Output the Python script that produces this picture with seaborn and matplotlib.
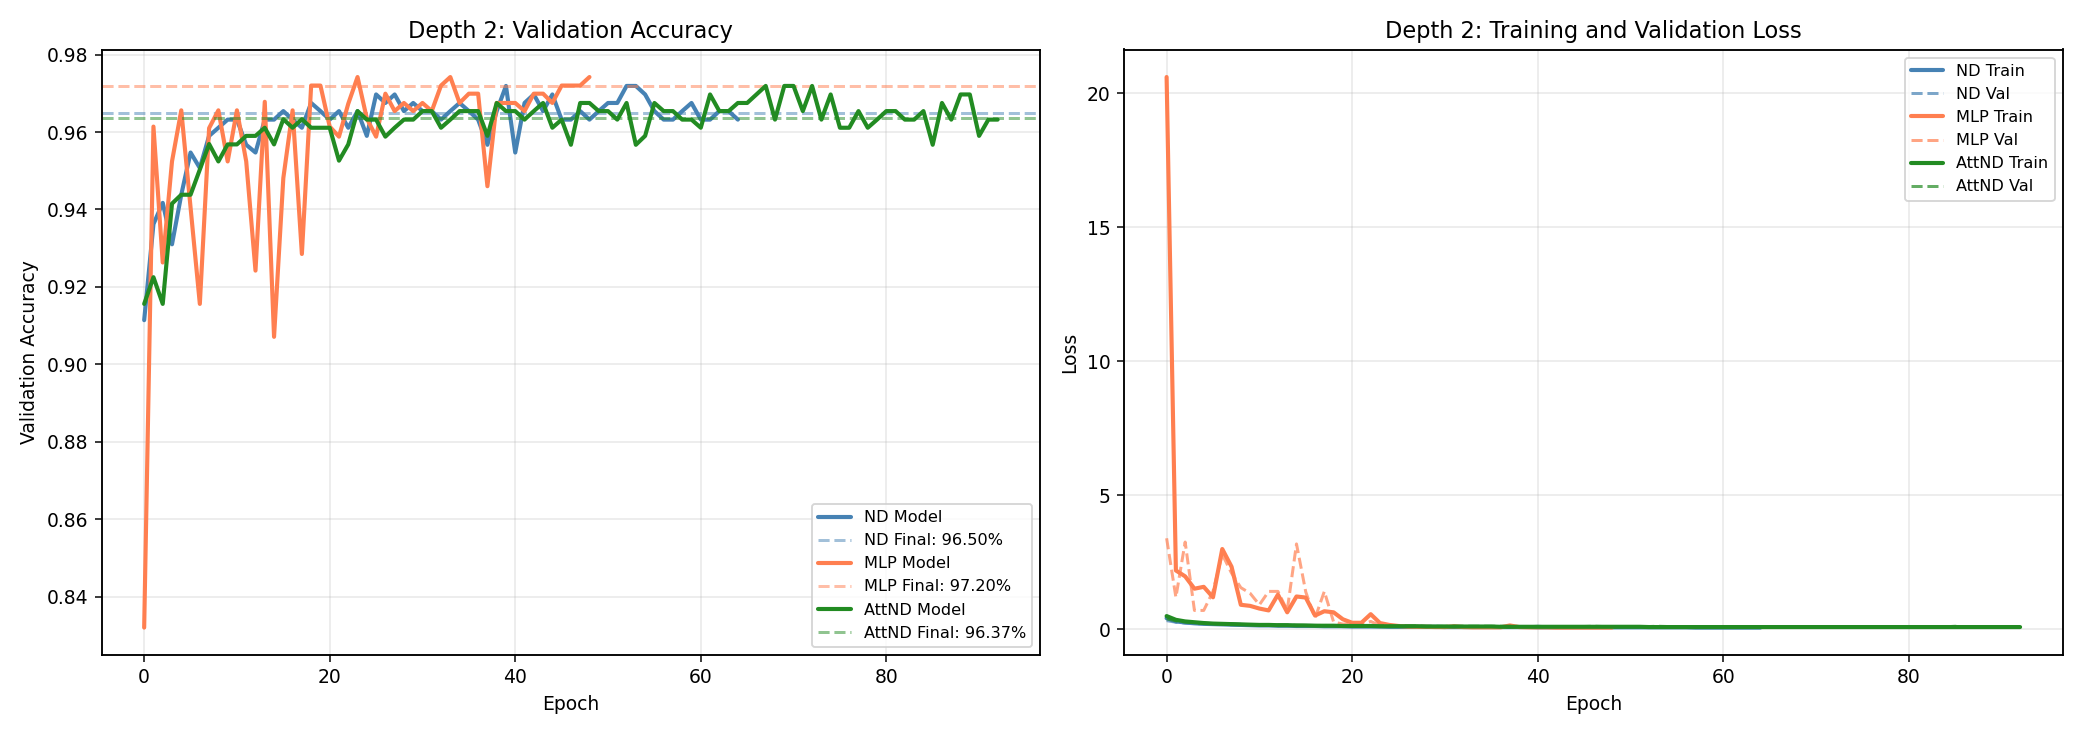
import pandas as pd
import numpy as np
import matplotlib
matplotlib.use("Agg")
import matplotlib.pyplot as plt
import seaborn as sns

# validation accuracy per epoch
nd_acc = [0.9114, 0.9362, 0.9417, 0.9310, 0.9438, 0.9547, 0.9507, 0.9590, 0.9611, 0.9632,
          0.9632, 0.9567, 0.9547, 0.9632, 0.9632, 0.9654, 0.9632, 0.9611, 0.9675, 0.9654,
          0.9632, 0.9654, 0.9611, 0.9654, 0.9590, 0.9697, 0.9675, 0.9697, 0.9654, 0.9675,
          0.9654, 0.9654, 0.9632, 0.9654, 0.9675, 0.9654, 0.9632, 0.9567, 0.9654, 0.9719,
          0.9547, 0.9675, 0.9697, 0.9654, 0.9697, 0.9632, 0.9632, 0.9654, 0.9632, 0.9654,
          0.9675, 0.9675, 0.9719, 0.9719, 0.9697, 0.9654, 0.9632, 0.9632, 0.9654, 0.9675,
          0.9632, 0.9632, 0.9654, 0.9654, 0.9632]
mlp_acc = [0.8320, 0.9614, 0.9263, 0.9524, 0.9656, 0.9405, 0.9156, 0.9610, 0.9656, 0.9524,
           0.9656, 0.9524, 0.9242, 0.9678, 0.9071, 0.9481, 0.9656, 0.9285, 0.9720, 0.9720,
           0.9614, 0.9588, 0.9673, 0.9742, 0.9635, 0.9588, 0.9699, 0.9654, 0.9675, 0.9654,
           0.9675, 0.9654, 0.9720, 0.9742, 0.9675, 0.9699, 0.9699, 0.9460, 0.9675, 0.9675,
           0.9675, 0.9654, 0.9699, 0.9699, 0.9675, 0.9720, 0.9720, 0.9720, 0.9742]
attnd_acc = [0.9156, 0.9225, 0.9156, 0.9415, 0.9438, 0.9438, 0.9503, 0.9569, 0.9524, 0.9568,
             0.9568, 0.9590, 0.9590, 0.9611, 0.9568, 0.9633, 0.9611, 0.9633, 0.9611, 0.9611,
             0.9611, 0.9526, 0.9568, 0.9654, 0.9632, 0.9632, 0.9588, 0.9611, 0.9632, 0.9632,
             0.9654, 0.9654, 0.9611, 0.9632, 0.9654, 0.9654, 0.9654, 0.9590, 0.9675, 0.9654,
             0.9654, 0.9632, 0.9654, 0.9675, 0.9611, 0.9632, 0.9567, 0.9675, 0.9675, 0.9654,
             0.9654, 0.9632, 0.9675, 0.9567, 0.9590, 0.9675, 0.9654, 0.9654, 0.9632, 0.9632,
             0.9611, 0.9697, 0.9654, 0.9654, 0.9675, 0.9675, 0.9697, 0.9719, 0.9632, 0.9719,
             0.9719, 0.9654, 0.9719, 0.9632, 0.9697, 0.9611, 0.9611, 0.9654, 0.9611, 0.9632,
             0.9654, 0.9654, 0.9632, 0.9632, 0.9654, 0.9567, 0.9675, 0.9632, 0.9697, 0.9697,
             0.9590, 0.9632, 0.9632]

final_acc = {"ND": 0.9650, "MLP": 0.9720, "AttND": 0.9637}

# losses per epoch
nd_train = [0.42, 0.30, 0.26, 0.23, 0.21, 0.20, 0.19, 0.18, 0.17, 0.16,
            0.15, 0.15, 0.14, 0.14, 0.13, 0.13, 0.13, 0.12, 0.12, 0.12,
            0.11, 0.11, 0.11, 0.11, 0.10, 0.10, 0.10, 0.10, 0.10, 0.10,
            0.09, 0.09, 0.09, 0.09, 0.09, 0.09, 0.09, 0.09, 0.09, 0.09,
            0.08, 0.08, 0.08, 0.08, 0.08, 0.08, 0.08, 0.08, 0.08, 0.08,
            0.08, 0.08, 0.08, 0.08, 0.08, 0.08, 0.08, 0.07, 0.07, 0.07,
            0.07, 0.07, 0.07, 0.07, 0.07]
nd_val = [0.33, 0.27, 0.24, 0.22, 0.21, 0.19, 0.19, 0.17, 0.17, 0.16,
          0.15, 0.16, 0.14, 0.14, 0.14, 0.13, 0.13, 0.13, 0.12, 0.13,
          0.12, 0.12, 0.12, 0.11, 0.12, 0.11, 0.11, 0.11, 0.11, 0.11,
          0.11, 0.11, 0.11, 0.10, 0.10, 0.11, 0.10, 0.12, 0.10, 0.10,
          0.12, 0.10, 0.10, 0.10, 0.10, 0.10, 0.11, 0.10, 0.10, 0.10,
          0.10, 0.10, 0.10, 0.10, 0.10, 0.10, 0.10, 0.10, 0.10, 0.10,
          0.10, 0.10, 0.10, 0.10, 0.10]
mlp_train = [20.6, 2.20, 1.98, 1.52, 1.59, 1.20, 3.00, 2.34, 0.92, 0.88,
             0.78, 0.71, 1.30, 0.64, 1.23, 1.19, 0.52, 0.68, 0.64, 0.38,
             0.25, 0.25, 0.57, 0.24, 0.17, 0.13, 0.11, 0.10, 0.10, 0.09,
             0.09, 0.12, 0.09, 0.08, 0.08, 0.08, 0.08, 0.15, 0.09, 0.08,
             0.08, 0.08, 0.07, 0.07, 0.07, 0.07, 0.07, 0.07, 0.07]
mlp_val = [3.40, 1.20, 3.26, 0.71, 0.71, 1.42, 2.80, 2.10, 1.56, 1.35,
           0.92, 1.42, 1.42, 0.71, 3.19, 1.40, 0.42, 1.42, 0.28, 0.20,
           0.22, 0.18, 0.30, 0.15, 0.12, 0.12, 0.10, 0.10, 0.10, 0.10,
           0.12, 0.10, 0.10, 0.09, 0.10, 0.09, 0.10, 0.09, 0.09, 0.09,
           0.09, 0.08, 0.09, 0.09, 0.08, 0.08, 0.09, 0.08, 0.08]
attnd_train = [0.50, 0.36, 0.30, 0.27, 0.24, 0.22, 0.21, 0.20, 0.19, 0.18,
               0.17, 0.17, 0.16, 0.16, 0.15, 0.15, 0.14, 0.14, 0.14, 0.13,
               0.13, 0.13, 0.13, 0.12, 0.12, 0.12, 0.12, 0.12, 0.11, 0.11,
               0.11, 0.11, 0.11, 0.11, 0.11, 0.11, 0.10, 0.10, 0.10, 0.10,
               0.10, 0.10, 0.10, 0.10, 0.10, 0.10, 0.10, 0.10, 0.10, 0.10,
               0.10, 0.10, 0.09, 0.09, 0.09, 0.09, 0.09, 0.09, 0.09, 0.09,
               0.09, 0.09, 0.09, 0.09, 0.09, 0.09, 0.09, 0.09, 0.09, 0.09,
               0.09, 0.09, 0.09, 0.09, 0.09, 0.09, 0.09, 0.09, 0.09, 0.09,
               0.09, 0.09, 0.09, 0.09, 0.09, 0.09, 0.09, 0.09, 0.09, 0.09,
               0.09, 0.09, 0.09]
attnd_val = [0.40, 0.32, 0.28, 0.25, 0.23, 0.22, 0.20, 0.20, 0.19, 0.18,
             0.18, 0.17, 0.17, 0.16, 0.16, 0.15, 0.15, 0.15, 0.14, 0.14,
             0.14, 0.15, 0.14, 0.13, 0.13, 0.13, 0.13, 0.13, 0.12, 0.12,
             0.12, 0.12, 0.12, 0.12, 0.12, 0.12, 0.12, 0.12, 0.11, 0.11,
             0.11, 0.11, 0.11, 0.11, 0.11, 0.11, 0.12, 0.11, 0.11, 0.11,
             0.11, 0.11, 0.11, 0.12, 0.11, 0.11, 0.11, 0.11, 0.11, 0.11,
             0.11, 0.10, 0.11, 0.11, 0.10, 0.10, 0.10, 0.10, 0.11, 0.10,
             0.10, 0.11, 0.10, 0.11, 0.10, 0.11, 0.11, 0.10, 0.11, 0.11,
             0.10, 0.10, 0.11, 0.11, 0.10, 0.12, 0.10, 0.11, 0.10, 0.10,
             0.11, 0.11, 0.11]

colors = {"ND": "steelblue", "MLP": "coral", "AttND": "forestgreen"}

sns.set_style("ticks")
plt.rcParams["font.family"] = ["DejaVu Sans"]
plt.rcParams["axes.edgecolor"] = "black"
plt.rcParams["axes.linewidth"] = 1.0
plt.rcParams["text.color"] = "black"
plt.rcParams["axes.labelcolor"] = "black"
plt.rcParams["xtick.color"] = "black"
plt.rcParams["ytick.color"] = "black"
plt.rcParams["grid.color"] = "#b0b0b0"

fig, (ax1, ax2) = plt.subplots(1, 2, figsize=(2083 / 135, 734 / 135), dpi=135)

# Left: validation accuracy
acc = {"ND": nd_acc, "MLP": mlp_acc, "AttND": attnd_acc}
for name, vals in acc.items():
    df = pd.DataFrame({"epoch": np.arange(len(vals)), "acc": vals})
    sns.lineplot(data=df, x="epoch", y="acc", ax=ax1, color=colors[name],
                 linewidth=2.2, label=f"{name} Model")
    ax1.axhline(final_acc[name], color=colors[name], linestyle="--", alpha=0.5,
                linewidth=1.6, label=f"{name} Final: {final_acc[name]*100:.2f}%")
ax1.set_title("Depth 2: Validation Accuracy", fontsize=12)
ax1.set_xlabel("Epoch")
ax1.set_ylabel("Validation Accuracy")
ax1.grid(True, alpha=0.3)
ax1.legend(loc="lower right", fontsize=8.6)

# Right: losses
losses = {"ND": (nd_train, nd_val), "MLP": (mlp_train, mlp_val), "AttND": (attnd_train, attnd_val)}
for name, (tr, va) in losses.items():
    df = pd.DataFrame({"epoch": np.arange(len(tr)), "train": tr, "val": va})
    sns.lineplot(data=df, x="epoch", y="train", ax=ax2, color=colors[name],
                 linewidth=2.2, label=f"{name} Train")
    sns.lineplot(data=df, x="epoch", y="val", ax=ax2, color=colors[name],
                 linewidth=1.6, linestyle="--", alpha=0.7, label=f"{name} Val")
ax2.set_title("Depth 2: Training and Validation Loss", fontsize=12)
ax2.set_xlabel("Epoch")
ax2.set_ylabel("Loss")
ax2.grid(True, alpha=0.3)
ax2.legend(loc="upper right", fontsize=8.6)

plt.tight_layout()
plt.savefig("out.png", dpi=135)
